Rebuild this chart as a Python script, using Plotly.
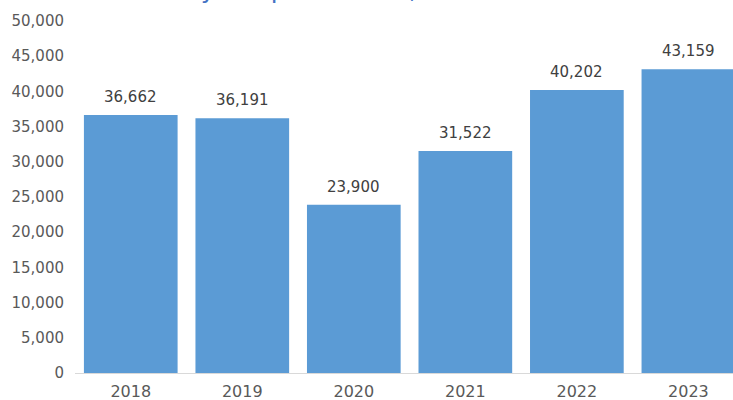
import plotly.graph_objects as go

years = ["2018", "2019", "2020", "2021", "2022", "2023"]
values = [36662, 36191, 23900, 31522, 40202, 43159]
y_ticks = [0, 5000, 10000, 15000, 20000, 25000, 30000, 35000, 40000, 45000, 50000]
y_tick_text = ["0", "5,000", "10,000", "15,000", "20,000", "25,000", "30,000",
               "35,000", "40,000", "45,000", "50,000"]
title_text = "by Hospitalization, 2018-2023"

FONT = "DejaVu Sans"
W, H = 733, 400
L, R, T, B = 75, 0, 21, 27

fig = go.Figure(go.Bar(
    x=years, y=values,
    marker=dict(color="#5B9BD5", line=dict(width=0)),
    cliponaxis=True,
))

annotations = [
    dict(x=i, y=v, xref="x", yref="y", text=f"{v:,}",
         showarrow=False, xanchor="center", yanchor="bottom", yshift=7,
         font=dict(family=FONT, size=15, color="#404040"))
    for i, v in enumerate(values)
]
# title sits mostly above the top edge, as in the reference (only its lower part shows)
annotations.append(dict(
    text=title_text,
    xref="paper", yref="paper",
    x=(183 - L) / (W - L - R), y=1,
    xanchor="left", yanchor="bottom",
    yshift=15, showarrow=False,
    font=dict(family=FONT, size=25, color="#4472C4"),
))

fig.update_layout(
    width=W, height=H,
    margin=dict(l=L, r=R, t=T, b=B, autoexpand=False),
    paper_bgcolor="white", plot_bgcolor="white",
    bargap=0.16,
    showlegend=False,
    hovermode=False,
    font=dict(family=FONT, color="#595959"),
    xaxis=dict(
        type="category",
        range=[-0.5, 5.4],
        automargin=False,
        showline=True, linecolor="#D9D9D9", linewidth=1,
        ticks="", showgrid=False,
        ticklabelstandoff=4,
        tickfont=dict(size=16, color="#595959"),
    ),
    yaxis=dict(
        range=[0, 50000],
        automargin=False,
        tickvals=y_ticks, ticktext=y_tick_text,
        showgrid=False, zeroline=False, showline=False,
        ticks="", ticklabelstandoff=10,
        tickfont=dict(size=15, color="#595959"),
    ),
    annotations=annotations,
)

fig.write_html("out.html", config={"displayModeBar": False},
               post_script="document.body.style.margin='0';")
